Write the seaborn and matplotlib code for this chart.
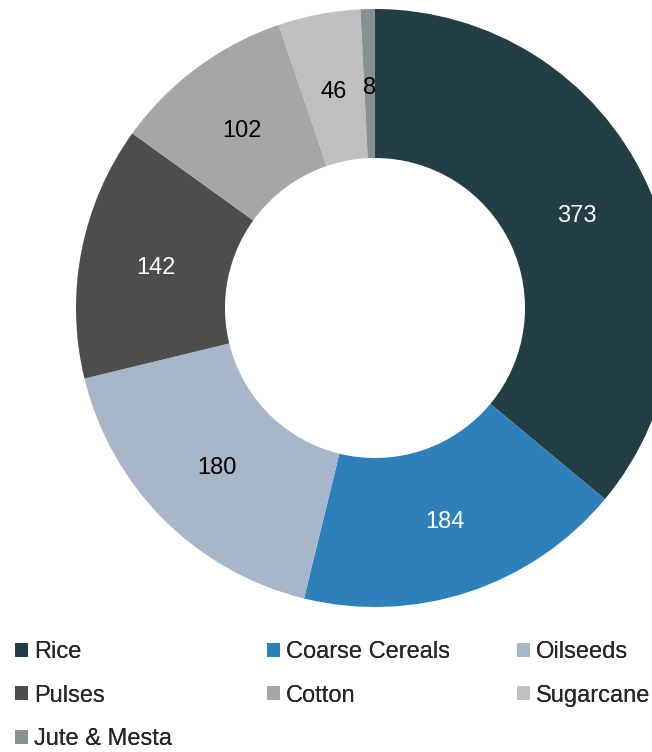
import matplotlib
matplotlib.use("Agg")
import matplotlib.pyplot as plt
from matplotlib.patches import Patch
import seaborn as sns

crops = ["Rice", "Coarse Cereals", "Oilseeds", "Pulses", "Cotton", "Sugarcane", "Jute & Mesta"]
values = [373, 184, 180, 142, 102, 46, 8]
colors = ["#233E45", "#2E80BA", "#A8B6C9", "#4D4D4D", "#A6A6A6", "#BFBFBF", "#879193"]
label_colors = ["white", "white", "black", "white", "black", "black", "black"]

sns.set_theme(style="white")
plt.rcParams["font.family"] = ["Liberation Sans", "DejaVu Sans"]

W, H = 652, 752
fig = plt.figure(figsize=(W / 100, H / 100), dpi=100)
ax = fig.add_axes([0, 0, 1, 1])

cx, cy, R, ring = 375, H - 308, 299, 149
wedges, texts = ax.pie(
    values,
    labels=[str(v) for v in values],
    colors=colors,
    startangle=90,
    counterclock=False,
    radius=R,
    center=(cx, cy),
    labeldistance=0.745,
    wedgeprops=dict(width=ring, linewidth=0),
    textprops=dict(fontsize=17, ha="center", va="center_baseline"),
)
for t, c in zip(texts, label_colors):
    t.set_color(c)

ax.set_xlim(0, W)
ax.set_ylim(0, H)
ax.set_aspect("equal")
ax.axis("off")

# legend laid out as three evenly spaced columns
handles = [Patch(facecolor=c, edgecolor="none") for c in colors]
columns = [[0, 3, 6], [1, 4], [2, 5]]
col_x = [15, 267, 517]
for idx, x in zip(columns, col_x):
    leg = fig.legend(
        [handles[i] for i in idx],
        [crops[i] for i in idx],
        loc="upper left",
        bbox_to_anchor=(x / W, 1 - 641 / H),
        frameon=False,
        fontsize=17,
        handlelength=0.55,
        handleheight=0.55,
        handletextpad=0.25,
        labelspacing=0.92,
        borderaxespad=0,
        borderpad=0,
    )
    fig.add_artist(leg)

fig.savefig("out.png", dpi=100)
